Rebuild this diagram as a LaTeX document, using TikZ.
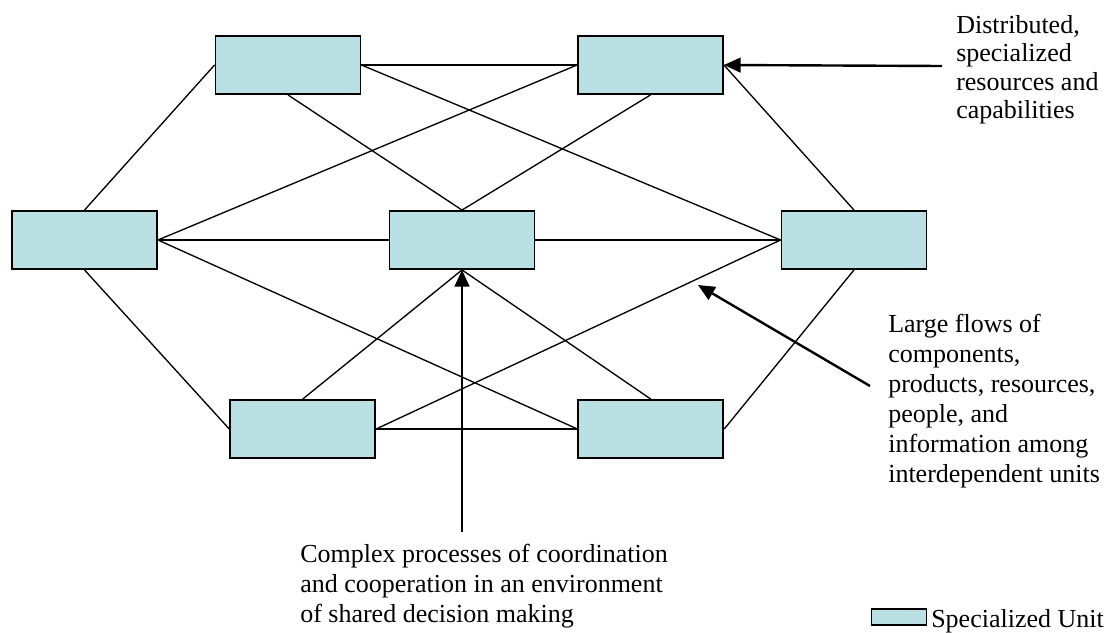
\documentclass[tikz,border=0pt]{standalone}
\usepackage{fontspec}
\setmainfont{Liberation Serif}
\usetikzlibrary{arrows.meta}
\definecolor{unitfill}{HTML}{BBE0E3}
\begin{document}
\begin{tikzpicture}[x=0.75pt,y=-0.75pt,
  unit/.style={draw=black,line width=1.4pt,fill=unitfill,minimum width=108.75pt,minimum height=43.5pt,inner sep=0pt},
  link/.style={line width=1pt},
  pointer/.style={line width=1.8pt,-{Triangle[length=12.5pt,width=11pt]}},
  note/.style={font=\fontsize{19.5}{22.5}\selectfont,align=left,inner sep=0pt,anchor=north west},
  notetight/.style={note,font=\fontsize{19.5}{21.4}\selectfont}]
\useasboundingbox (0,0) rectangle (1106,632);
% units
\node[unit] (TL) at (288,65) {};
\node[unit] (TR) at (650.5,65) {};
\node[unit] (L) at (84.5,240) {};
\node[unit] (C) at (462,240) {};
\node[unit] (R) at (854,240) {};
\node[unit] (BL) at (302.7,429) {};
\node[unit] (BR) at (650.8,429) {};
% links
\draw[link] (TL.west) -- (L.north);
\draw[link] (TL.east) -- (TR.west);
\draw[link] (TL.east) -- (R.west);
\draw[link] (TL.south) -- (C.north);
\draw[link] (TR.west) -- (L.east);
\draw[link] (TR.south) -- (C.north);
\draw[link] (TR.east) -- (R.north);
\draw[link] (L.east) -- (C.west);
\draw[link] (L.east) -- (BR.west);
\draw[link] (L.south) -- (BL.west);
\draw[link] (C.east) -- (R.west);
\draw[link] (C.south) -- (BL.north);
\draw[link] (C.south) -- (BR.north);
\draw[link] (BL.east) -- (R.west);
\draw[link] (BL.east) -- (BR.west);
\draw[link] (BR.east) -- (R.south);
% annotations
\node[notetight] (t1) at (956,15) {Distributed,\\specialized\\resources and\\capabilities};
\node[note] (t2) at (888,314) {Large flows of\\components,\\products, resources,\\people, and\\information among\\interdependent units};
\node[note] (t3) at (300,544) {Complex processes of coordination\\and cooperation in an environment\\of shared decision making};
% pointers
\coordinate (a1) at (942,66);
\draw[pointer] (a1) -- (TR.east);
\coordinate (a2) at (870,386);
\coordinate (a2tip) at (698,285);
\draw[pointer] (a2) -- (a2tip);
\coordinate (a3) at (462,532);
\draw[pointer] (a3) -- (C.south);
% legend
\node[draw=black,line width=1.2pt,fill=unitfill,minimum width=41pt,minimum height=12pt,inner sep=0pt] (legbox) at (899,617) {};
\node[note] (legtext) at (931,609) {Specialized Unit};
\end{tikzpicture}
\end{document}
